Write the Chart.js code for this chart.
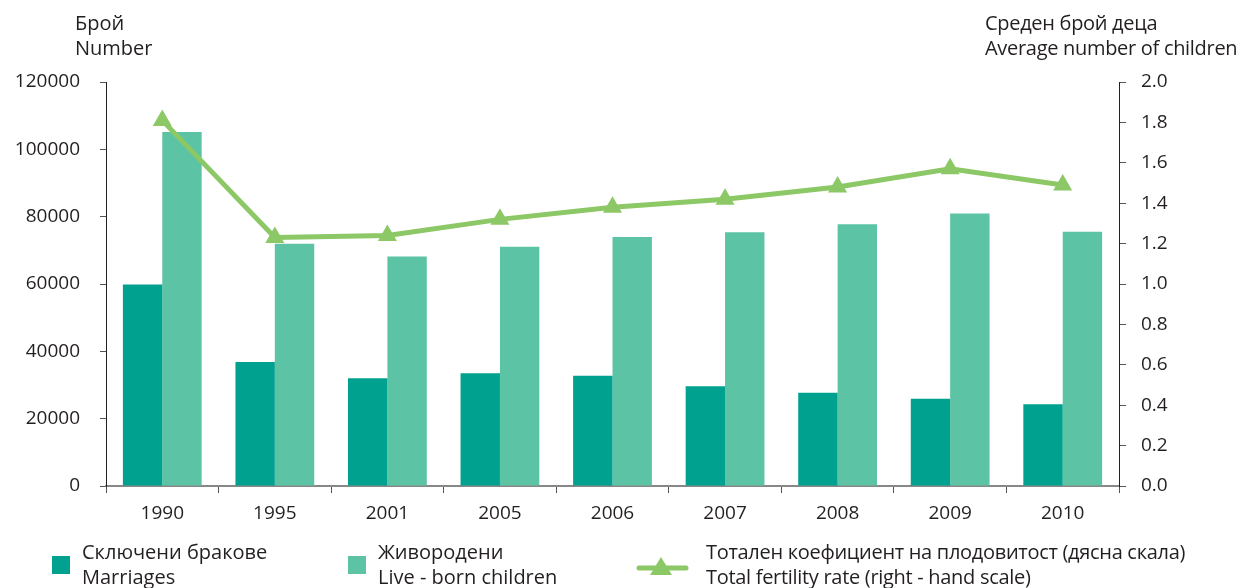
<!DOCTYPE html>
<html>
<head>
<meta charset="utf-8">
<script src="https://cdn.jsdelivr.net/npm/chart.js@4"></script>
<style>
  body { margin: 0; background: #fff; font-family: "Open Sans", sans-serif; color: #231f20; }
  #wrap { position: relative; width: 1251px; height: 588px; }
  canvas { position: absolute; left: 0; top: 0; }
  .lbl { position: absolute; font-size: 20px; line-height: 25px; white-space: nowrap; }
  .sq { position: absolute; width: 18px; height: 18px; }
</style>
</head>
<body>
<div id="wrap">
  <canvas id="demoChart" width="1251" height="588"></canvas>
  <div class="lbl" style="left:75px; top:10px;">Брой<br>Number</div>
  <div class="lbl" style="left:985px; top:10px; letter-spacing:-0.3px;">Среден брой деца<br>Average number of children</div>

  <div class="sq" id="sqMarr" style="left:52px; top:556px;"></div>
  <div class="lbl" style="left:82px; top:539px;">Сключени бракове<br>Marriages</div>
  <div class="sq" id="sqLive" style="left:348px; top:556px;"></div>
  <div class="lbl" style="left:378px; top:539px;">Живородени<br>Live - born children</div>
  <canvas id="lineKey" width="60" height="30" style="left:634px; top:553px;"></canvas>
  <div class="lbl" style="left:706px; top:539px; letter-spacing:-0.3px;">Тотален коефициент на плодовитост (дясна скала)<br>Total fertility rate (right - hand scale)</div>
</div>
<script>
var years = ["1990", "1995", "2001", "2005", "2006", "2007", "2008", "2009", "2010"];
var marriages = [59874, 36795, 31993, 33501, 32765, 29640, 27722, 25923, 24286];
var liveBirths = [105180, 71967, 68180, 71075, 73978, 75349, 77712, 80956, 75513];
var fertilityRate = [1.81, 1.23, 1.24, 1.32, 1.38, 1.42, 1.48, 1.57, 1.49];
var leftTicks = [0, 20000, 40000, 60000, 80000, 100000, 120000];

var colMarr = "#00a18e";
var colLive = "#5cc3a5";
var colLine = "#8cc866";

document.getElementById("sqMarr").style.background = colMarr;
document.getElementById("sqLive").style.background = colLive;

// legend key for the line
var k = document.getElementById("lineKey").getContext("2d");
k.strokeStyle = colLine; k.lineWidth = 5; k.lineCap = "round";
k.beginPath(); k.moveTo(5, 15); k.lineTo(52, 15); k.stroke();
k.fillStyle = colLine;
k.beginPath(); k.moveTo(27, 4); k.lineTo(38, 22); k.lineTo(16, 22); k.closePath(); k.fill();

var tickFont = { family: "Open Sans", size: 19 };

var ctx = document.getElementById("demoChart");
var demoChart = new Chart(ctx, {
    type: "bar",
    data: {
        labels: years,
        datasets: [
            {
                type: "line",
                label: "Тотален коефициент на плодовитост",
                data: fertilityRate,
                yAxisID: "y1",
                borderColor: colLine,
                backgroundColor: colLine,
                borderWidth: 5,
                pointStyle: "triangle",
                pointRadius: 11,
                pointHoverRadius: 11,
                pointBorderWidth: 0,
                tension: 0,
                order: 0
            },
            {
                label: "Сключени бракове",
                data: marriages,
                backgroundColor: colMarr,
                yAxisID: "y",
                categoryPercentage: 0.7,
                barPercentage: 1.0,
                order: 1
            },
            {
                label: "Живородени",
                data: liveBirths,
                backgroundColor: colLive,
                yAxisID: "y",
                categoryPercentage: 0.7,
                barPercentage: 1.0,
                order: 1
            }
        ]
    },
    options: {
        responsive: false,
        animation: false,
        layout: { padding: { top: 82, bottom: 52, left: 0, right: 0 } },
        plugins: { legend: { display: false }, tooltip: { enabled: false } },
        scales: {
            x: {
                grid: { drawOnChartArea: false, tickLength: 7, color: "#555" },
                border: { color: "#888", width: 2 },
                ticks: { font: tickFont, color: "#231f20", padding: 9 },
                afterFit: function(s) { s.height = 50; }
            },
            y: {
                position: "left",
                min: 0,
                max: 120000,
                afterBuildTicks: function(s) { s.ticks = leftTicks.map(function(v) { return { value: v }; }); },
                grid: { drawOnChartArea: false, tickLength: 6, color: "#555" },
                border: { color: "#231f20", width: 1 },
                ticks: {
                    font: tickFont,
                    color: "#231f20",
                    padding: 20,
                    callback: function(v) { return String(v); }
                },
                afterFit: function(s) { s.width = 106; }
            },
            y1: {
                position: "right",
                min: 0,
                max: 2,
                ticks: {
                    stepSize: 0.2,
                    font: tickFont,
                    color: "#231f20",
                    padding: 15,
                    callback: function(v) { return v.toFixed(1); }
                },
                grid: { drawOnChartArea: false, tickLength: 7, color: "#555" },
                border: { color: "#231f20", width: 1 },
                afterFit: function(s) { s.width = 1251 - 1119; }
            }
        }
    }
});
</script>
</body>
</html>
